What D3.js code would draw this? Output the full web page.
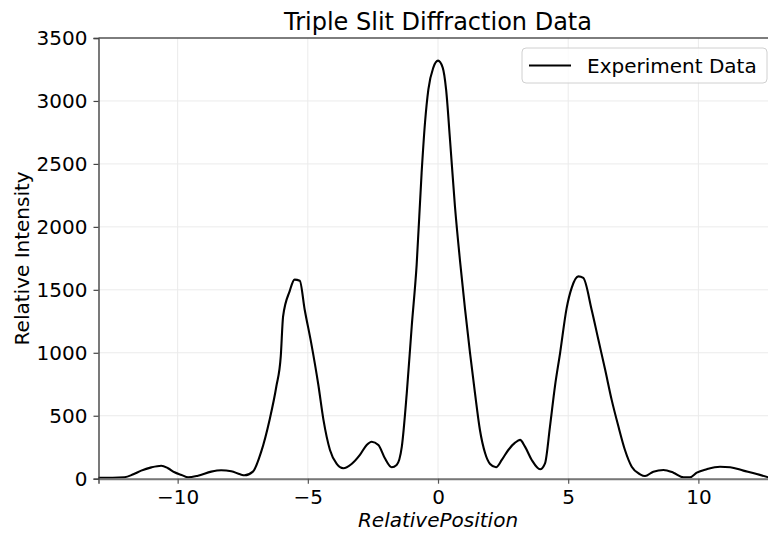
<!DOCTYPE html>
<html>
<head>
<meta charset="utf-8">
<script src="https://cdn.jsdelivr.net/npm/d3@7"></script>
<style>
    body { margin: 0; background: white; }
    svg { display: block; font-family: "DejaVu Sans", sans-serif; }
    .grid line { stroke: #ebebeb; stroke-width: 1; }
    .tick text { font-size: 20px; fill: #000; font-family: "DejaVu Sans", sans-serif; }
</style>
</head>
<body>
<div id="chart"></div>
<script>
// Data
const positions = [
    -13.04, -12.5, -12.04, -11.7, -11.4, -11.01, -10.63, -10.37, -10.12, -9.85,
    -9.6, -9.22, -8.71, -8.33, -7.94, -7.6, -7.43, -7.11, -6.79, -6.47,
    -6.21, -6.04, -5.95, -5.7, -5.51, -5.31, -5.12, -4.87, -4.6, -4.4,
    -4.15, -3.89, -3.64, -3.32, -3.0, -2.74, -2.55, -2.29, -2.04, -1.78,
    -1.59, -1.39, -1.2, -1.01, -0.82, -0.63, -0.5, -0.37, -0.18, 0.0,
    0.18, 0.31, 0.46, 0.65, 0.85, 1.04, 1.23, 1.42, 1.61, 1.81,
    2.0, 2.23, 2.45, 2.7, 2.96, 3.15, 3.34, 3.6, 3.92, 4.11,
    4.3, 4.49, 4.69, 4.94, 5.14, 5.39, 5.58, 5.9, 6.16, 6.42,
    6.67, 6.93, 7.18, 7.44, 7.76, 7.95, 8.27, 8.66, 9.04, 9.43,
    9.68, 9.94, 10.32, 10.83, 11.22, 11.73, 12.24, 12.68
];
const intensity = [
    8, 8, 11, 35, 64, 90, 103, 83, 51, 30,
    11, 24, 56, 67, 59, 35, 27, 56, 215, 467,
    732, 971, 1289, 1488, 1581, 1572, 1342, 1077, 750, 467,
    228, 117, 83, 117, 189, 268, 294, 268, 162, 91,
    109, 255, 679, 1209, 1700, 2429, 2827, 3092, 3265, 3320,
    3265, 3092, 2694, 2164, 1720, 1342, 998, 679, 387, 202,
    117, 91, 149, 228, 286, 308, 255, 149, 75, 122,
    414, 732, 1000, 1355, 1520, 1607, 1594, 1342, 1103, 865,
    626, 414, 228, 95, 35, 21, 56, 69, 48, 11,
    11, 48, 75, 95, 91, 64, 37, 11
];
const xTicks = [-10, -5, 0, 5, 10];
const yTicks = [0, 500, 1000, 1500, 2000, 2500, 3000, 3500];

const width = 768, height = 534;
const margin = { top: 38, right: -2.5, bottom: 55.3, left: 98.5 };
const innerW = width - margin.left - margin.right;
const innerH = height - margin.top - margin.bottom;

const svg = d3.select('#chart')
    .append('svg')
    .attr('width', width)
    .attr('height', height);

const g = svg.append('g')
    .attr('transform', `translate(${margin.left},${margin.top})`);

const x = d3.scaleLinear().domain([-13.04, 12.77]).range([0, innerW]);
const y = d3.scaleLinear().domain([0, 3500]).range([innerH, 0]);

// Grid
g.append('g').attr('class', 'grid')
    .selectAll('line.v').data(xTicks).join('line')
    .attr('x1', d => x(d)).attr('x2', d => x(d))
    .attr('y1', 0).attr('y2', innerH);
g.append('g').attr('class', 'grid')
    .selectAll('line.h').data(yTicks).join('line')
    .attr('x1', 0).attr('x2', innerW)
    .attr('y1', d => y(d)).attr('y2', d => y(d));

// Data line
const points = positions.map((p, i) => ({ x: p, y: intensity[i] }));
g.append('path')
    .datum(points)
    .attr('fill', 'none')
    .attr('stroke', '#000')
    .attr('stroke-width', 2.1)
    .attr('stroke-linejoin', 'round')
    .attr('d', d3.line().x(d => x(d.x)).y(d => y(d.y)).curve(d3.curveMonotoneX));

// Axes
const xAxis = g.append('g')
    .attr('transform', `translate(0,${innerH})`)
    .call(d3.axisBottom(x).tickValues(xTicks).tickSize(5).tickPadding(6)
        .tickFormat(d => d < 0 ? '\u2212' + Math.abs(d) : String(d)));
xAxis.select('.domain').attr('stroke', '#777').attr('stroke-width', 2);
xAxis.selectAll('.tick line').attr('stroke', '#555').attr('stroke-width', 1.2);

const yAxis = g.append('g')
    .call(d3.axisLeft(y).tickValues(yTicks).tickSize(5).tickPadding(6)
        .tickFormat(d3.format('d')));
yAxis.select('.domain').attr('stroke', '#333').attr('stroke-width', 1.3);
yAxis.selectAll('.tick line').attr('stroke', '#444').attr('stroke-width', 1.2);

// Top spine
g.append('line')
    .attr('x1', 0).attr('x2', innerW)
    .attr('y1', 0).attr('y2', 0)
    .attr('stroke', '#555').attr('stroke-width', 1.5);

// Title and labels
svg.append('text')
    .attr('x', margin.left + x(0))
    .attr('y', 30)
    .attr('text-anchor', 'middle')
    .style('font-size', '24px')
    .text('Triple Slit Diffraction Data');

svg.append('text')
    .attr('x', margin.left + x(0))
    .attr('y', 527)
    .attr('text-anchor', 'middle')
    .style('font-size', '20px')
    .style('font-style', 'italic')
    .text('RelativePosition');

svg.append('text')
    .attr('transform', `translate(29,${margin.top + innerH / 2}) rotate(-90)`)
    .attr('text-anchor', 'middle')
    .style('font-size', '20px')
    .text('Relative Intensity');

// Legend
const legend = svg.append('g').attr('transform', 'translate(522,48)');
legend.append('rect')
    .attr('width', 245).attr('height', 35).attr('rx', 4)
    .attr('fill', 'white').attr('fill-opacity', 0.8)
    .attr('stroke', '#d0d0d0').attr('stroke-width', 1);
legend.append('line')
    .attr('x1', 7).attr('x2', 49).attr('y1', 17.5).attr('y2', 17.5)
    .attr('stroke', '#000').attr('stroke-width', 2);
legend.append('text')
    .attr('x', 65).attr('y', 24.5)
    .style('font-size', '20px')
    .text('Experiment Data');
</script>
</body>
</html>
